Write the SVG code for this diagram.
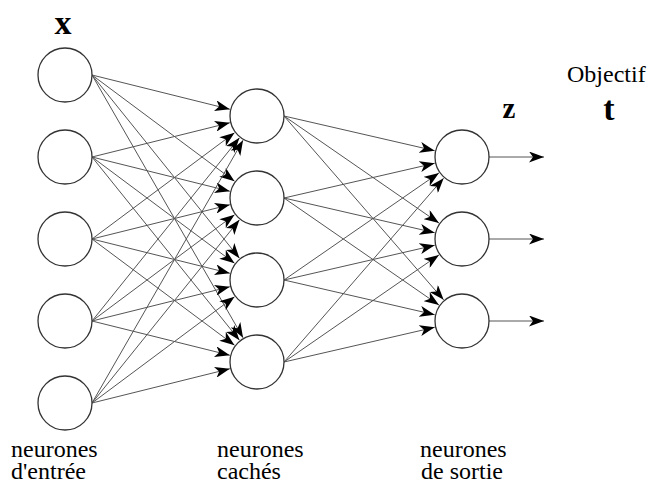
<svg xmlns="http://www.w3.org/2000/svg" width="651" height="484" viewBox="0 0 651 484">
<style>
.node circle{fill:#fff;stroke:#333;stroke-width:1.3}
#connectors line{stroke:#555;stroke-width:1;marker-end:url(#arr)}
text{font-family:"Liberation Serif","Times New Roman",serif;fill:#000}
.lab{font-size:24px}
.var{font-size:34px;font-weight:bold}
</style>
<defs>
<marker id="arr" markerUnits="userSpaceOnUse" markerWidth="15" markerHeight="11" viewBox="0 0 15 11" refX="15" refY="5.5" orient="auto">
<path d="M0,0 L15,5.5 L0,11 L4,5.5 Z" fill="#000"/>
</marker>
</defs>
<rect width="651" height="484" fill="#fff"/>
<g id="connectors">
<line x1="92" y1="75" x2="229.83" y2="109.25"/>
<line x1="92" y1="75" x2="234.55" y2="181.26"/>
<line x1="92" y1="75" x2="239.44" y2="258.19"/>
<line x1="92" y1="75" x2="243.04" y2="337.73"/>
<line x1="92" y1="157" x2="229.83" y2="122.75"/>
<line x1="92" y1="157" x2="229.83" y2="191.25"/>
<line x1="92" y1="157" x2="234.55" y2="263.26"/>
<line x1="92" y1="157" x2="239.44" y2="340.19"/>
<line x1="92" y1="239" x2="234.55" y2="132.74"/>
<line x1="92" y1="239" x2="229.83" y2="204.75"/>
<line x1="92" y1="239" x2="229.83" y2="273.25"/>
<line x1="92" y1="239" x2="234.55" y2="345.26"/>
<line x1="92" y1="321" x2="239.44" y2="137.81"/>
<line x1="92" y1="321" x2="234.55" y2="214.74"/>
<line x1="92" y1="321" x2="229.83" y2="286.75"/>
<line x1="92" y1="321" x2="229.83" y2="355.25"/>
<line x1="92" y1="403" x2="243.04" y2="140.27"/>
<line x1="92" y1="403" x2="239.44" y2="219.81"/>
<line x1="92" y1="403" x2="234.55" y2="296.74"/>
<line x1="92" y1="403" x2="229.83" y2="368.75"/>
<line x1="284" y1="116" x2="434.71" y2="150.71"/>
<line x1="284" y1="116" x2="438.96" y2="223.08"/>
<line x1="284" y1="116" x2="443.64" y2="299.86"/>
<line x1="284" y1="198" x2="434.71" y2="163.29"/>
<line x1="284" y1="198" x2="434.71" y2="232.71"/>
<line x1="284" y1="198" x2="438.96" y2="305.08"/>
<line x1="284" y1="280" x2="438.96" y2="172.92"/>
<line x1="284" y1="280" x2="434.71" y2="245.29"/>
<line x1="284" y1="280" x2="434.71" y2="314.71"/>
<line x1="284" y1="362" x2="443.64" y2="178.14"/>
<line x1="284" y1="362" x2="438.96" y2="254.92"/>
<line x1="284" y1="362" x2="434.71" y2="327.29"/>
<line x1="489" y1="157" x2="544" y2="157"/>
<line x1="489" y1="239" x2="544" y2="239"/>
<line x1="489" y1="321" x2="544" y2="321"/>
</g>
<g id="in1" class="node"><circle cx="65" cy="75" r="27"/></g>
<g id="in2" class="node"><circle cx="65" cy="157" r="27"/></g>
<g id="in3" class="node"><circle cx="65" cy="239" r="27"/></g>
<g id="in4" class="node"><circle cx="65" cy="321" r="27"/></g>
<g id="in5" class="node"><circle cx="65" cy="403" r="27"/></g>
<g id="h1" class="node"><circle cx="257" cy="116" r="27"/></g>
<g id="h2" class="node"><circle cx="257" cy="198" r="27"/></g>
<g id="h3" class="node"><circle cx="257" cy="280" r="27"/></g>
<g id="h4" class="node"><circle cx="257" cy="362" r="27"/></g>
<g id="o1" class="node"><circle cx="462" cy="157" r="27"/></g>
<g id="o2" class="node"><circle cx="462" cy="239" r="27"/></g>
<g id="o3" class="node"><circle cx="462" cy="321" r="27"/></g>
<g id="labels">
<text class="var" x="63" y="34" text-anchor="middle">x</text>
<text class="var" x="509" y="118" text-anchor="middle" style="font-size:29px">z</text>
<text class="var" x="609" y="120" text-anchor="middle">t</text>
<text class="lab" x="567" y="82">Objectif</text>
<text class="lab" x="11" y="457">neurones</text>
<text class="lab" x="11" y="479">d'entrée</text>
<text class="lab" x="217" y="457">neurones</text>
<text class="lab" x="217" y="479">cachés</text>
<text class="lab" x="420" y="457">neurones</text>
<text class="lab" x="421" y="479">de sortie</text>
</g>
</svg>
